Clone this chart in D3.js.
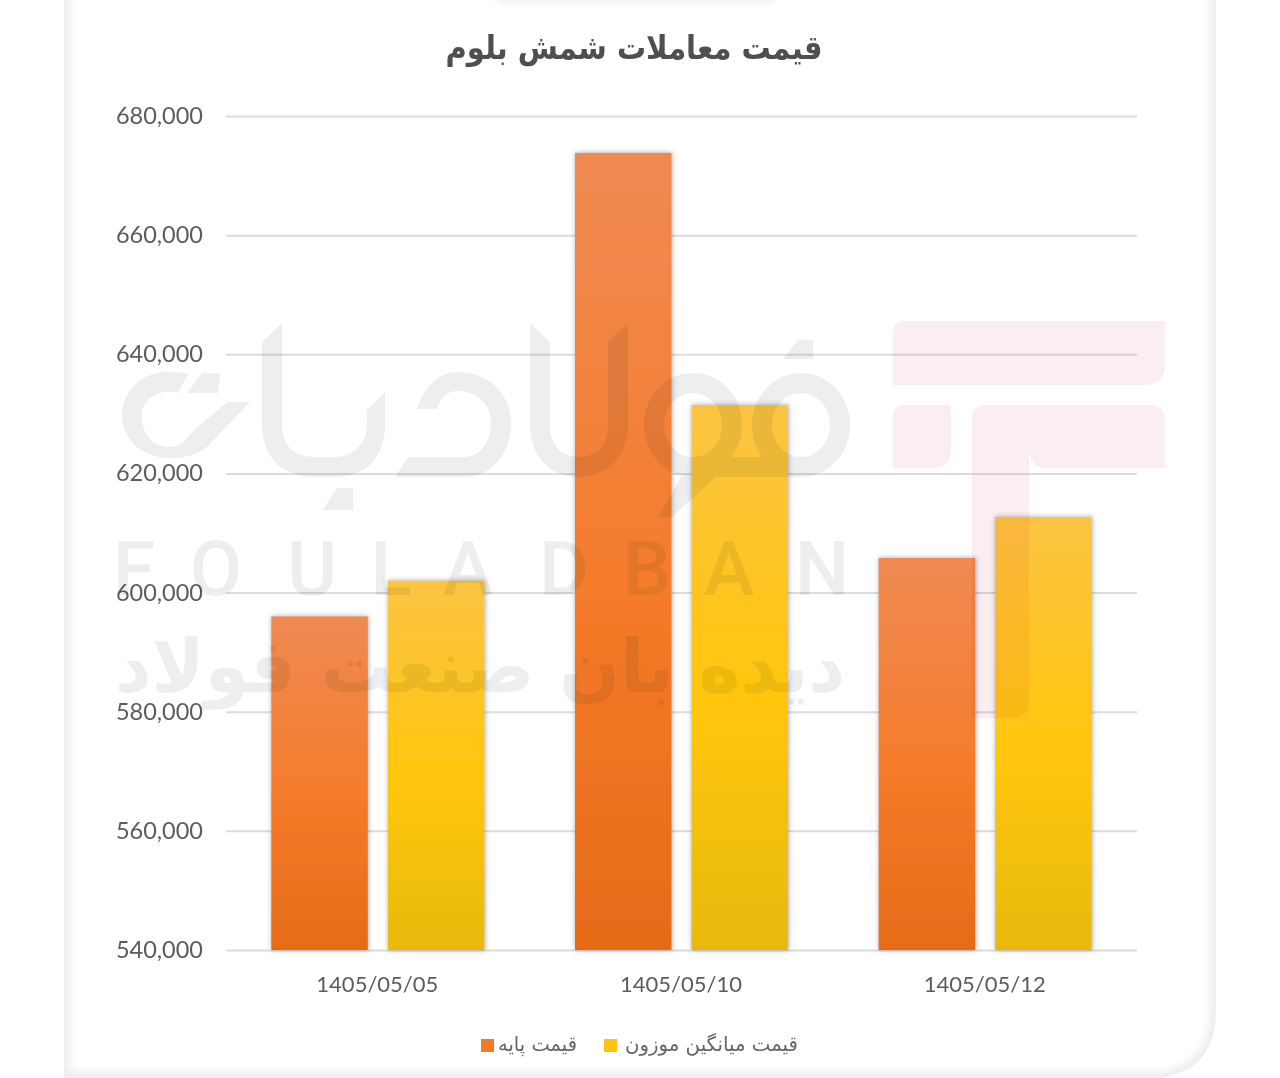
<!DOCTYPE html>
<html><head><meta charset="utf-8">
<style>html,body{margin:0;padding:0;background:#fff;overflow:hidden}svg{display:block}</style>
<script src="https://cdn.jsdelivr.net/npm/d3@7"></script></head>
<body><script>
const dates = ["1405/05/05","1405/05/10","1405/05/12"];
const basePrice = [596000,673800,605800];
const weightedPrice = [602000,631500,612700];
const yTicks = [540000,560000,580000,600000,620000,640000,660000,680000];
const seriesNames = ["قیمت پایه","قیمت میانگین موزون"];
const chartTitle = "قیمت معاملات شمش بلوم";
const wmLatin = ["F","O","U","L","A","D","B","A","N"];
const wmLatinX = [134,216,312,391,468,564,647,729,822];

const W=1280,H=1078;
const svg=d3.select("body").append("svg").attr("width",W).attr("height",H);
const defs=svg.append("defs");
const blur=(id,s)=>defs.append("filter").attr("id",id).attr("x","-30%").attr("y","-30%").attr("width","160%").attr("height","160%").append("feGaussianBlur").attr("stdDeviation",s);
blur("soft",5);blur("pill",4);blur("tiny",0.6);
const ds=defs.append("filter").attr("id","barShadow").attr("x","-20%").attr("y","-5%").attr("width","140%").attr("height","110%");
ds.append("feDropShadow").attr("dx",0.5).attr("dy",0).attr("stdDeviation",2.6).attr("flood-color","#50586a").attr("flood-opacity",0.55);
const grad=(id,stops)=>{const g=defs.append("linearGradient").attr("id",id).attr("x1",0).attr("x2",0).attr("y1",0).attr("y2",1);
 stops.forEach(([o,c])=>g.append("stop").attr("offset",o).attr("stop-color",c));};
grad("gOrange",[[0,"#ef8a52"],[0.55,"#f57b2a"],[1,"#e56b18"]]);
grad("gYellow",[[0,"#fdc443"],[0.55,"#ffc60b"],[1,"#e8ba08"]]);

// card frame
const cardD="M64 -20 L64 1078 L1160 1078 Q1216 1070 1216 1010 L1216 -20 Z";
defs.append("clipPath").attr("id","card").append("path").attr("d",cardD);
svg.append("rect").attr("width",W).attr("height",H).attr("fill","#fff");
svg.append("g").attr("clip-path","url(#card)").append("path").attr("d",cardD)
  .attr("fill","none").attr("stroke","#e9e9ec").attr("stroke-width",10).attr("filter","url(#soft)");
svg.append("rect").attr("x",495).attr("y",-12).attr("width",280).attr("height",14).attr("rx",7).attr("fill","#ececec").attr("filter","url(#pill)");

const root=svg.append("g").attr("filter","url(#tiny)");
const x0=d3.scaleBand().domain(dates).range([226,1137]);
const x1=d3.scaleBand().domain([0,1]).range([0,x0.bandwidth()]).paddingInner(0.172).paddingOuter(0.389);
const y=d3.scaleLinear().domain([540000,680000]).range([950,116]);
const axisFont="Lato, 'Open Sans', sans-serif";

// grid + y axis
const ya=root.append("g").attr("transform","translate(226,0)")
 .call(d3.axisLeft(y).tickValues(yTicks).tickFormat(d3.format(",")).tickSize(-911).tickPadding(23));
ya.select(".domain").remove();
ya.selectAll("line").attr("stroke","#dcdcde").attr("stroke-width",2);
ya.selectAll("text").attr("font-family",axisFont).attr("font-size",23.5).attr("fill","#5c5c5c").attr("dy","0.32em");

// x axis
const xa=root.append("g").attr("transform","translate(0,950)").call(d3.axisBottom(x0).tickSize(0).tickPadding(26));
xa.select(".domain").remove();
xa.selectAll("text").attr("font-family",axisFont).attr("font-size",22).attr("fill","#5c5c5c").attr("dx",-0.5);

// bars
const series=[basePrice,weightedPrice];
const fills=["url(#gOrange)","url(#gYellow)"];
series.forEach((vals,si)=>{
 root.append("g").selectAll("rect").data(vals).join("rect")
  .attr("x",(d,i)=>x0(dates[i])+x1(si)).attr("width",x1.bandwidth())
  .attr("y",d=>y(d)).attr("height",d=>y(540000)-y(d))
  .attr("fill",fills[si]).attr("filter","url(#barShadow)");
});

// watermark
const wmGrey="#eceef0";
const wm=root.append("g").style("mix-blend-mode","multiply");
const g1=wm.append("g").attr("fill",wmGrey);
[
"M282 323L262 342L262 425C262 460 285 477 315 477L335 477C365 477 385 458 385 425L385 392L367 410L367 425C367 446 350 457 335 457L315 457C295 457 282 446 282 425Z",
"M323 510L337 488L353 488L353 510Z",
"M417 409C425 385 440 372 457 372C490 372 511 395 511 423C511 455 490 477 465 477L395 477L408 457L465 457C480 457 491 442 491 423C491 405 478 391 458 391C447 391 440 398 437 409Z",
"M530 323L550 342L550 425C550 446 562 457 578 457C596 457 608 446 608 425L608 342L628 323L628 425C628 458 606 477 578 477C552 477 530 458 530 425Z",
"M187 393L202 373L220 373L218 393Z",
"M783 359L798 340L813 340L813 359Z",
"M690 462L716 477L672 517L658 517Z",
"M122 415C122 390 145 370 170 372C178 372 185 373 188 374L178 393C160 388 142 398 142 415C142 438 155 447 170 447C180 447 186 440 192 432L227 402L250 402L208 446C198 455 185 458 170 458C145 458 122 442 122 415Z"
].forEach(d=>g1.append("path").attr("d",d));
const g2=wm.append("g").attr("fill","none").attr("stroke",wmGrey).attr("stroke-width",20);
[693,801].forEach(cx=>g2.append("ellipse").attr("cx",cx).attr("cy",425).attr("rx",39).attr("ry",42));
g2.append("path").attr("d","M693 467L801 467");

wm.append("g").selectAll("text").data(wmLatin).join("text")
 .attr("x",(d,i)=>wmLatinX[i]).attr("y",595).attr("text-anchor","middle")
 .attr("font-family","Roboto, sans-serif").attr("font-weight",500).attr("font-size",76).attr("fill",wmGrey).text(d=>d);

wm.append("text").attr("transform","translate(845,692) scale(1,1.05)").attr("direction","rtl")
 .attr("text-anchor","start").attr("font-family","'DejaVu Sans'").attr("font-weight","bold").attr("font-size",70)
 .attr("textLength",730).attr("lengthAdjust","spacingAndGlyphs").attr("fill",wmGrey).text("دیده بان صنعت فولاد");

// red logo
const red=root.append("g").style("mix-blend-mode","multiply").attr("fill","#fbeef0");
[
"M905 321L1165 321L1165 365Q1165 385 1145 385L893 385L893 333Q893 321 905 321Z",
"M905 405L951 405L951 450Q951 468 933 468L893 468L893 417Q893 405 905 405Z",
"M985 405L1150 405Q1165 405 1165 420L1165 468L1045 468Q1032 468 1029 452L1029 700Q1029 718 1011 718L972 718L972 418Q972 405 985 405Z"
].forEach(d=>red.append("path").attr("d",d));

// title
root.append("text").attr("x",634).attr("y",59).attr("direction","rtl").attr("text-anchor","middle")
 .attr("font-family","'DejaVu Sans'").attr("font-weight","bold").attr("font-size",33)
 .attr("textLength",377).attr("lengthAdjust","spacingAndGlyphs").attr("fill","#4f4f4f").text(chartTitle);

// legend
const legendSq=[[481,"#f47a2a"],[604,"#fdc30f"]];
const legendTextRight=[577,798];
const legendTextLen=[79,173];
seriesNames.forEach((n,i)=>{
 root.append("rect").attr("x",legendSq[i][0]).attr("y",1039).attr("width",13).attr("height",13).attr("fill",legendSq[i][1]);
 root.append("text").attr("x",legendTextRight[i]).attr("y",1051).attr("direction","rtl").attr("text-anchor","start")
  .attr("font-family","'DejaVu Sans'").attr("font-size",20)
  .attr("textLength",legendTextLen[i]).attr("lengthAdjust","spacingAndGlyphs").attr("fill","#666").text(n);
});
</script></body></html>
